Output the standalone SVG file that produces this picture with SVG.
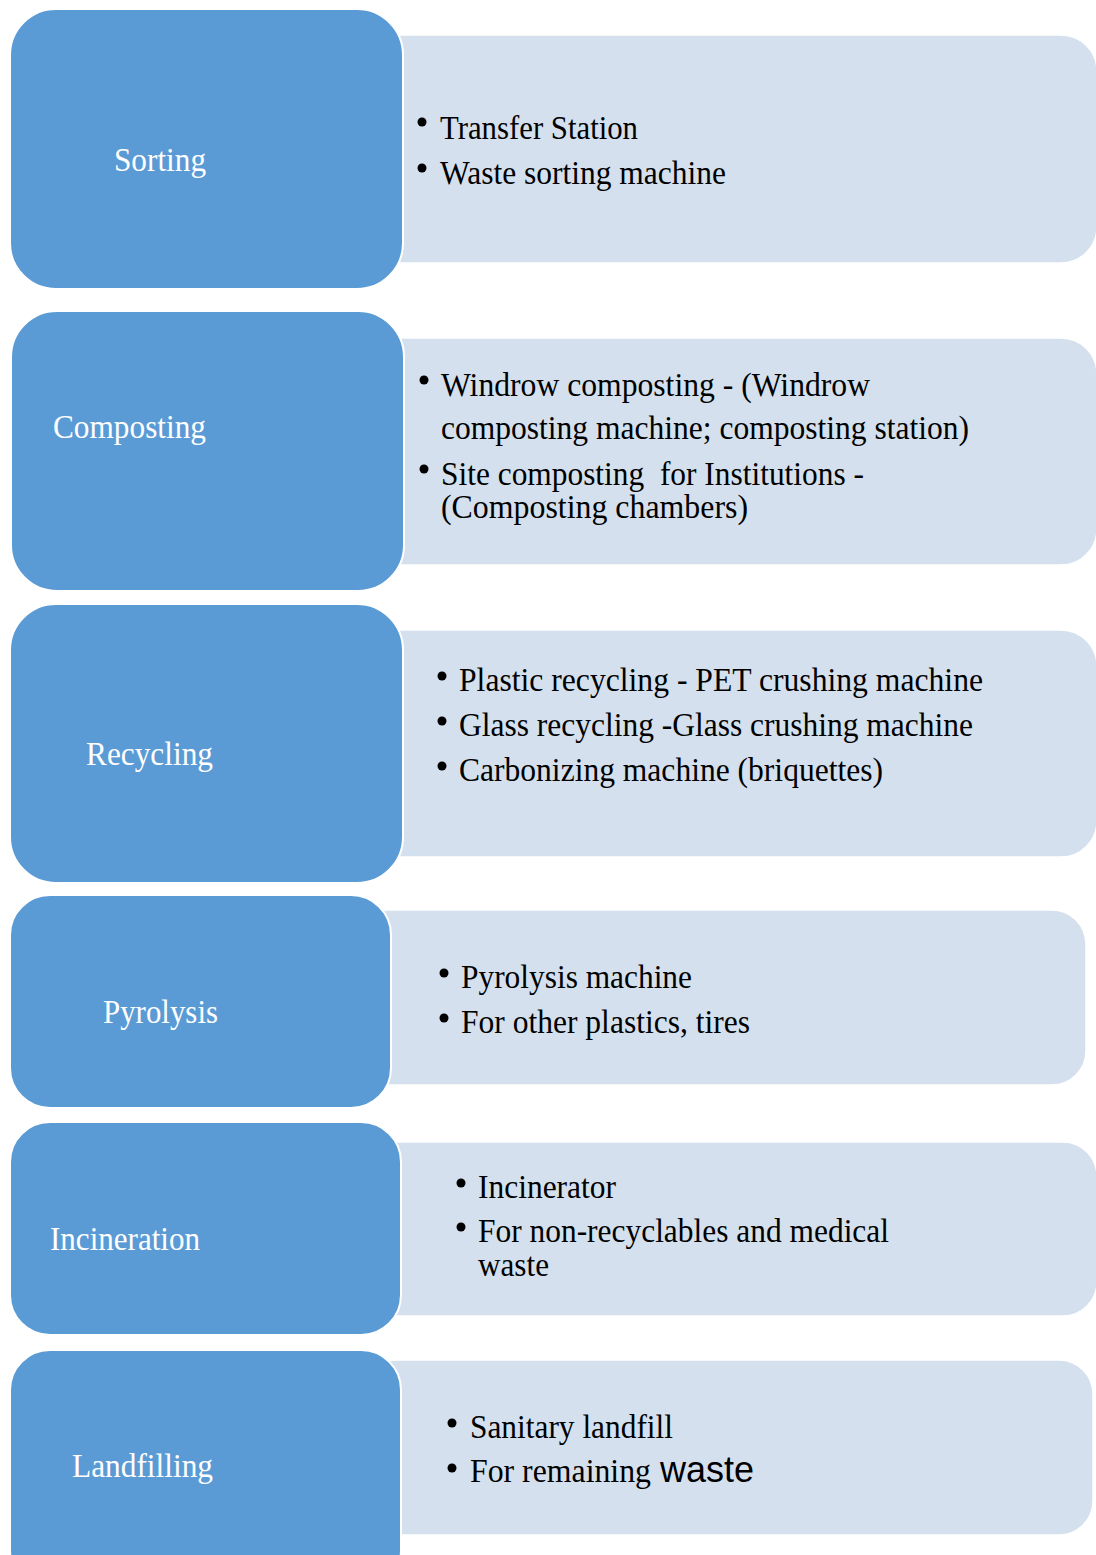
<svg xmlns="http://www.w3.org/2000/svg" width="1096" height="1555" viewBox="0 0 1096 1555">
  <style>
    .stage { fill: #5B9BD5; stroke: #FFFFFF; stroke-width: 2; }
    .panel { fill: #D5E0EE; stroke: #FFFFFF; stroke-width: 1.5; }
    .label { font-family: "Liberation Serif", "Times New Roman", serif; font-size: 34px; fill: #FFFFFF; }
    .item { font-family: "Liberation Serif", "Times New Roman", serif; font-size: 33px; fill: #000000; }
    .dot { fill: #000000; }
    .sans { font-family: "Liberation Sans", Arial, sans-serif; font-size: 36px; fill: #000000; }
  </style>
  <rect width="1096" height="1555" fill="#FFFFFF"/>

  <!-- Sorting -->
  <g id="sorting">
    <rect class="panel" x="360" y="35" width="737" height="228" rx="36"/>
    <rect class="stage" x="10" y="9" width="393" height="280" rx="46"/>
    <text class="label" x="114" y="171" textLength="92" lengthAdjust="spacingAndGlyphs">Sorting</text>
    <circle class="dot" cx="422" cy="122" r="4.5"/>
    <text class="item" x="440" y="139" textLength="198" lengthAdjust="spacingAndGlyphs">Transfer Station</text>
    <circle class="dot" cx="422" cy="168" r="4.5"/>
    <text class="item" x="440" y="184" textLength="286" lengthAdjust="spacingAndGlyphs">Waste sorting machine</text>
  </g>

  <!-- Composting -->
  <g id="composting">
    <rect class="panel" x="360" y="338" width="737" height="227" rx="36"/>
    <rect class="stage" x="11" y="311" width="393" height="280" rx="46"/>
    <text class="label" x="53" y="438" textLength="153" lengthAdjust="spacingAndGlyphs">Composting</text>
    <circle class="dot" cx="424" cy="380" r="4.5"/>
    <text class="item" x="441" y="396" textLength="429" lengthAdjust="spacingAndGlyphs">Windrow composting - (Windrow</text>
    <text class="item" x="441" y="439" textLength="528" lengthAdjust="spacingAndGlyphs">composting machine; composting station)</text>
    <circle class="dot" cx="424" cy="469" r="4.5"/>
    <text class="item" x="441" y="485" textLength="423" lengthAdjust="spacingAndGlyphs" xml:space="preserve">Site composting  for Institutions -</text>
    <text class="item" x="441" y="518" textLength="307" lengthAdjust="spacingAndGlyphs">(Composting chambers)</text>
  </g>

  <!-- Recycling -->
  <g id="recycling">
    <rect class="panel" x="360" y="630" width="737" height="227" rx="36"/>
    <rect class="stage" x="10" y="604" width="393" height="279" rx="46"/>
    <text class="label" x="86" y="765" textLength="127" lengthAdjust="spacingAndGlyphs">Recycling</text>
    <circle class="dot" cx="442" cy="676" r="4.5"/>
    <text class="item" x="459" y="691" textLength="524" lengthAdjust="spacingAndGlyphs">Plastic recycling - PET crushing machine</text>
    <circle class="dot" cx="442" cy="721" r="4.5"/>
    <text class="item" x="459" y="736" textLength="514" lengthAdjust="spacingAndGlyphs">Glass recycling -Glass crushing machine</text>
    <circle class="dot" cx="442" cy="766" r="4.5"/>
    <text class="item" x="459" y="781" textLength="424" lengthAdjust="spacingAndGlyphs">Carbonizing machine (briquettes)</text>
  </g>

  <!-- Pyrolysis -->
  <g id="pyrolysis">
    <rect class="panel" x="350" y="910" width="736" height="175" rx="34"/>
    <rect class="stage" x="10" y="895" width="381" height="213" rx="40"/>
    <text class="label" x="103" y="1023" textLength="115" lengthAdjust="spacingAndGlyphs">Pyrolysis</text>
    <circle class="dot" cx="444" cy="973" r="4.5"/>
    <text class="item" x="461" y="988" textLength="231" lengthAdjust="spacingAndGlyphs">Pyrolysis machine</text>
    <circle class="dot" cx="444" cy="1018" r="4.5"/>
    <text class="item" x="461" y="1033" textLength="289" lengthAdjust="spacingAndGlyphs">For other plastics, tires</text>
  </g>

  <!-- Incineration -->
  <g id="incineration">
    <rect class="panel" x="360" y="1142" width="737" height="174" rx="34"/>
    <rect class="stage" x="10" y="1122" width="391" height="213" rx="40"/>
    <text class="label" x="50" y="1250" textLength="150" lengthAdjust="spacingAndGlyphs">Incineration</text>
    <circle class="dot" cx="461" cy="1183" r="4.5"/>
    <text class="item" x="478" y="1198" textLength="138" lengthAdjust="spacingAndGlyphs">Incinerator</text>
    <circle class="dot" cx="461" cy="1227" r="4.5"/>
    <text class="item" x="478" y="1242" textLength="411" lengthAdjust="spacingAndGlyphs">For non-recyclables and medical</text>
    <text class="item" x="478" y="1276" textLength="71" lengthAdjust="spacingAndGlyphs">waste</text>
  </g>

  <!-- Landfilling -->
  <g id="landfilling">
    <rect class="panel" x="360" y="1360" width="733" height="175" rx="34"/>
    <rect class="stage" x="10" y="1350" width="391" height="240" rx="40"/>
    <text class="label" x="72" y="1477" textLength="141" lengthAdjust="spacingAndGlyphs">Landfilling</text>
    <circle class="dot" cx="452" cy="1423" r="4.5"/>
    <text class="item" x="470" y="1438" textLength="203" lengthAdjust="spacingAndGlyphs">Sanitary landfill</text>
    <circle class="dot" cx="452" cy="1468" r="4.5"/>
    <text class="item" x="470" y="1482" textLength="181" lengthAdjust="spacingAndGlyphs">For remaining</text>
    <text class="sans" x="660" y="1482" textLength="94" lengthAdjust="spacingAndGlyphs">waste</text>
  </g>

  <!-- no connectors in this layout -->
  <g id="connectors"/>
</svg>
